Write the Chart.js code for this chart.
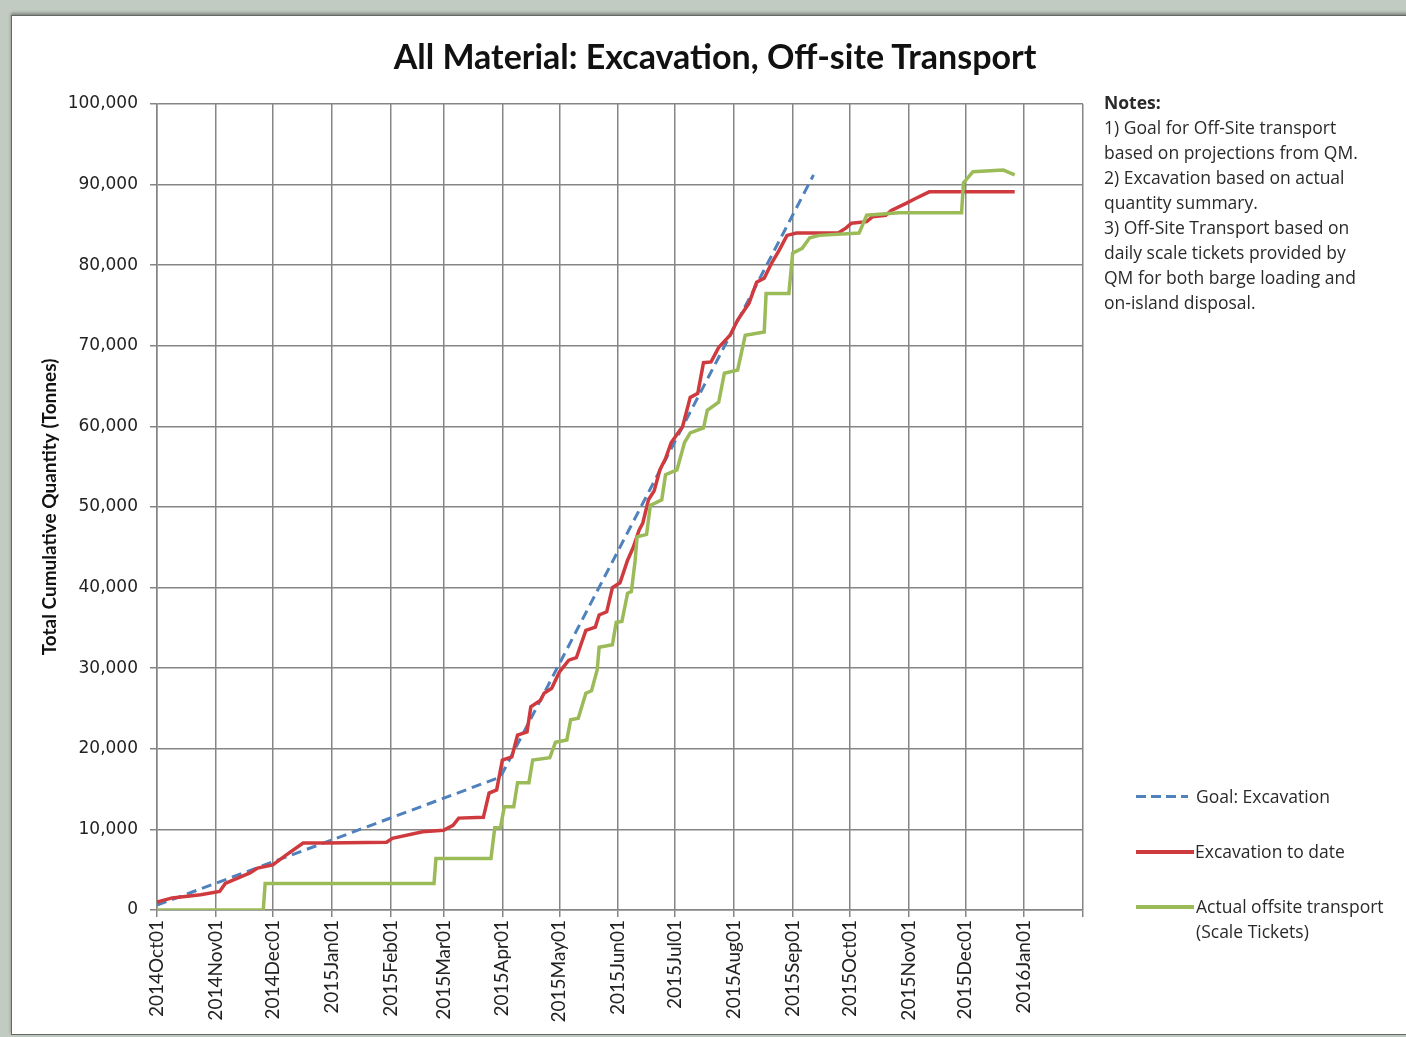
<!DOCTYPE html>
<html>
<head>
    <title>All Material: Excavation, Off-site Transport</title>
    <script src="https://cdn.jsdelivr.net/npm/chart.js"></script>
    <style>
        body {
            margin: 0;
            padding: 0;
            width: 1406px;
            height: 1037px;
            overflow: hidden;
            background: #c2cbc2;
            font-family: 'Open Sans', sans-serif;
            position: relative;
        }

        #card {
            position: absolute;
            left: 11px;
            top: 15px;
            width: 1400px;
            height: 1018px;
            background: #fff;
            border: 1px solid #666;
            box-shadow: 0 -2px 3px rgba(0, 0, 0, 0.35);
        }

        canvas {
            position: absolute;
            left: 0;
            top: 0;
        }

        #title {
            position: absolute;
            left: 265px;
            width: 900px;
            top: 35px;
            text-align: center;
            font-family: 'Lato', sans-serif;
            font-weight: bold;
            font-size: 34px;
            color: #111;
        }

        #notes {
            position: absolute;
            left: 1104px;
            top: 90px;
            font-size: 17.5px;
            line-height: 25px;
            color: #2a2a2a;
            white-space: nowrap;
        }

        .legend-item {
            position: absolute;
            left: 1136px;
            font-size: 17.5px;
            line-height: 25px;
            color: #2a2a2a;
        }

        .legend-item .swatch {
            position: absolute;
            left: 0;
            top: 11px;
            height: 4px;
        }

        .legend-item .text {
            position: absolute;
            white-space: nowrap;
        }
    </style>
</head>
<body>
    <div id="card"></div>
    <canvas id="myChart" width="1406" height="1037"></canvas>

    <div id="title">All Material: Excavation, Off-site Transport</div>

    <div id="notes">
        <b>Notes:</b><br>
        1) Goal for Off-Site transport<br>
        based on projections from QM.<br>
        2) Excavation based on actual<br>
        quantity summary.<br>
        3) Off-Site Transport based on<br>
        daily scale tickets provided by<br>
        QM for both barge loading and<br>
        on-island disposal.
    </div>

    <div class="legend-item" style="top: 784px;">
        <div class="swatch" style="width: 52px; height: 3px; background: repeating-linear-gradient(to right, #4f81bd 0 10px, transparent 10px 15px);"></div>
        <div class="text" style="left: 60px;">Goal: Excavation</div>
    </div>
    <div class="legend-item" style="top: 839px;">
        <div class="swatch" style="width: 58px; background: #cf3a3f;"></div>
        <div class="text" style="left: 59px;">Excavation to date</div>
    </div>
    <div class="legend-item" style="top: 894px;">
        <div class="swatch" style="width: 58px; background: #9bbb59;"></div>
        <div class="text" style="left: 60px;">Actual offsite transport<br>(Scale Tickets)</div>
    </div>

    <script>
        // x values are days counted from 2014-10-01
        const monthLabels = ['2014Oct01', '2014Nov01', '2014Dec01', '2015Jan01', '2015Feb01', '2015Mar01',
            '2015Apr01', '2015May01', '2015Jun01', '2015Jul01', '2015Aug01', '2015Sep01', '2015Oct01',
            '2015Nov01', '2015Dec01', '2016Jan01', ''];

        const goalDays = [0, 181, 346];
        const goalTonnes = [600, 16500, 91200];

        const excavationDays = [0, 8, 23, 33, 36, 49, 53, 61, 68, 77, 89, 121, 124, 140, 151, 156, 159, 172,
            175, 179, 182, 187, 190, 195, 197, 202, 204, 208, 212, 217, 221, 226, 231, 233, 237, 240, 244, 248,
            251, 254, 256, 259, 262, 265, 268, 271, 277, 281, 285, 288, 292, 296, 302, 306, 312, 316, 320, 324,
            328, 332, 337, 359, 363, 366, 374, 377, 384, 387, 395, 400, 407, 452];
        const excavationTonnes = [1000, 1500, 1900, 2300, 3300, 4600, 5200, 5600, 6800, 8300, 8300, 8400, 8900,
            9700, 9900, 10500, 11400, 11500, 14500, 14900, 18600, 19000, 21700, 22100, 25200, 26000, 26900,
            27500, 29500, 31000, 31300, 34700, 35100, 36600, 37000, 40000, 40600, 43400, 45000, 47100, 48000,
            50900, 52000, 54600, 56000, 58000, 60000, 63600, 64100, 67900, 68000, 69800, 71300, 73200, 75300,
            77900, 78400, 80300, 81900, 83700, 84000, 84000, 84600, 85200, 85400, 86000, 86200, 86800, 87700,
            88300, 89100, 89100];

        const transportDays = [0, 56, 57, 146, 147, 176, 178, 181, 183, 188, 190, 196, 198, 207, 210, 216, 218,
            222, 226, 229, 232, 233, 240, 242, 245, 248, 250, 252, 253, 258, 260, 266, 268, 274, 278, 281, 288,
            290, 296, 299, 306, 310, 320, 321, 333, 335, 340, 344, 349, 370, 374, 391, 424, 425, 430, 446, 452];
        const transportTonnes = [0, 0, 3300, 3300, 6400, 6400, 10200, 10200, 12800, 12800, 15800, 15800, 18600,
            18900, 20800, 21100, 23600, 23800, 26900, 27200, 29800, 32600, 32900, 35700, 35800, 39300, 39500,
            43400, 46300, 46600, 50200, 50900, 54000, 54600, 58000, 59200, 59800, 62000, 63000, 66600, 67000,
            71300, 71700, 76500, 76500, 81500, 82100, 83400, 83700, 84000, 86200, 86500, 86500, 90200, 91600,
            91800, 91200];

        // month start positions on the day axis
        const startMs = Date.UTC(2014, 9, 1);
        const monthTicks = monthLabels.map((label, i) =>
            Math.round((Date.UTC(2014, 9 + i, 1) - startMs) / 86400000));

        function toPoints(days, values) {
            return days.map((d, i) => ({ x: d, y: values[i] }));
        }

        const gridColor = '#858585';

        new Chart(document.getElementById('myChart'), {
            type: 'line',
            data: {
                datasets: [
                    {
                        label: 'Actual offsite transport (Scale Tickets)',
                        data: toPoints(transportDays, transportTonnes),
                        borderColor: '#9bbb59',
                        borderWidth: 3.5,
                        pointRadius: 0,
                        tension: 0
                    },
                    {
                        label: 'Excavation to date',
                        data: toPoints(excavationDays, excavationTonnes),
                        borderColor: '#cf3a3f',
                        borderWidth: 3.5,
                        pointRadius: 0,
                        tension: 0
                    },
                    {
                        label: 'Goal: Excavation',
                        data: toPoints(goalDays, goalTonnes),
                        borderColor: '#4f81bd',
                        borderWidth: 3,
                        borderDash: [10, 6],
                        pointRadius: 0,
                        tension: 0
                    }
                ]
            },
            options: {
                responsive: false,
                animation: false,
                layout: {
                    padding: { left: 0, top: 104, right: 323, bottom: 0 }
                },
                plugins: {
                    legend: { display: false },
                    tooltip: { enabled: false }
                },
                scales: {
                    x: {
                        type: 'linear',
                        min: 0,
                        max: 488,
                        afterBuildTicks: scale => {
                            scale.ticks = monthTicks.map(v => ({ value: v }));
                        },
                        afterFit: scale => {
                            scale.height = 127;
                        },
                        grid: {
                            color: gridColor,
                            lineWidth: 1.5,
                            tickLength: 7
                        },
                        border: { color: gridColor, width: 1.5 },
                        ticks: {
                            autoSkip: false,
                            minRotation: 90,
                            maxRotation: 90,
                            padding: 3,
                            color: '#222',
                            font: { family: 'Lato', size: 19 },
                            callback: (value, index) => monthLabels[index]
                        }
                    },
                    y: {
                        min: 0,
                        max: 100000,
                        afterFit: scale => {
                            scale.width = 157;
                        },
                        grid: {
                            color: gridColor,
                            lineWidth: 1.5,
                            tickLength: 7
                        },
                        border: { color: gridColor, width: 1.5 },
                        ticks: {
                            stepSize: 10000,
                            padding: 12,
                            color: '#222',
                            font: { family: 'DejaVu Sans', size: 17 },
                            callback: value => value.toLocaleString('en-US')
                        },
                        title: {
                            display: true,
                            text: 'Total Cumulative Quantity (Tonnes)',
                            color: '#111',
                            font: { family: 'Lato', size: 19, weight: 'bold' },
                            padding: { top: 38, bottom: 0 }
                        }
                    }
                }
            }
        });
    </script>
</body>
</html>
